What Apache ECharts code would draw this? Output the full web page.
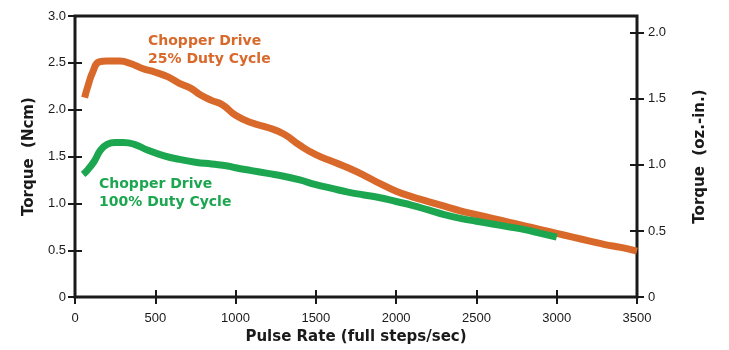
<!DOCTYPE html>
<html>
<head>
<meta charset="utf-8">
<script src="https://cdn.jsdelivr.net/npm/echarts@6/dist/echarts.min.js"></script>
<style>
  html, body { margin: 0; padding: 0; background: #fff; }
  #chart { width: 729px; height: 350px; }
</style>
</head>
<body>
<div id="chart"></div>
<script>
// pulse rate (steps/sec) and torque (Ncm)
var rate25 = [60, 80, 110, 150, 200, 280, 350, 420, 500, 580, 650, 720, 780, 850, 920, 1000,
  1100, 1200, 1300, 1400, 1500, 1600, 1700, 1800, 1900, 2000, 2100, 2200, 2300, 2400, 2500,
  2600, 2700, 2800, 2900, 3000, 3100, 3200, 3300, 3400, 3500];
var torque25 = [2.13, 2.25, 2.40, 2.51, 2.52, 2.52, 2.49, 2.44, 2.40, 2.35, 2.28, 2.23, 2.16, 2.10, 2.05, 1.94,
  1.86, 1.81, 1.74, 1.62, 1.52, 1.45, 1.38, 1.30, 1.21, 1.13, 1.07, 1.02, 0.97, 0.92, 0.88,
  0.84, 0.80, 0.76, 0.72, 0.68, 0.64, 0.60, 0.56, 0.53, 0.49];

var rate100 = [50, 80, 120, 160, 200, 250, 300, 370, 450, 550, 650, 750, 850, 950, 1000,
  1100, 1200, 1300, 1400, 1500, 1600, 1700, 1800, 1900, 2000, 2100, 2200, 2300, 2400, 2500,
  2600, 2700, 2800, 2900, 3000];
var torque100 = [1.31, 1.36, 1.45, 1.57, 1.63, 1.65, 1.65, 1.63, 1.57, 1.51, 1.47, 1.44, 1.42, 1.40, 1.38,
  1.35, 1.32, 1.29, 1.25, 1.20, 1.16, 1.12, 1.09, 1.06, 1.02, 0.98, 0.93, 0.88, 0.84, 0.81,
  0.78, 0.75, 0.72, 0.68, 0.64];

var ozTicks = [0, 0.5, 1.0, 1.5, 2.0];

var orange = '#d8692a';
var green = '#1ca650';
var ink = '#1a1a1a';

function pairs(xs, ys) {
  return xs.map(function (x, i) { return [x, ys[i]]; });
}
function oneDecimal(v) {
  return v === 0 ? '0' : v.toFixed(1);
}

var chart = echarts.init(document.getElementById('chart'));

// the frame is the grid border; each axis sits 7px inside it so that
// 14px outward ticks cross the frame line
var tick = { show: true, length: 14, lineStyle: { color: ink, width: 2 } };
var nameFont = { color: ink, fontSize: 15, fontWeight: 'bold', fontFamily: 'DejaVu Sans' };

chart.setOption({
  animation: false,
  textStyle: { fontFamily: 'Liberation Sans, Arial, sans-serif' },
  grid: {
    left: 75, right: 92, top: 16, bottom: 52,
    show: true, borderColor: ink, borderWidth: 3
  },
  xAxis: {
    type: 'value', min: 0, max: 3500, interval: 500, offset: -7,
    name: 'Pulse Rate (full steps/sec)',
    nameLocation: 'middle', nameGap: 38,
    nameTextStyle: nameFont,
    axisLine: { show: false },
    axisTick: tick,
    axisLabel: { color: ink, fontSize: 13, margin: 22, formatter: function (v) { return String(v); } },
    splitLine: { show: false }
  },
  yAxis: [
    {
      type: 'value', min: 0, max: 3, interval: 0.5, position: 'left', offset: -7,
      name: 'Torque  (Ncm)',
      nameLocation: 'middle', nameGap: 45, nameRotate: 90,
      nameTextStyle: nameFont,
      axisLine: { show: false },
      axisTick: tick,
      axisLabel: { color: ink, fontSize: 13, margin: 16, formatter: oneDecimal },
      splitLine: { show: false }
    },
    {
      type: 'value', min: 0, max: 2.125, position: 'right', offset: -7,
      name: 'Torque  (oz.-in.)',
      nameLocation: 'middle', nameGap: 63, nameRotate: 90,
      nameTextStyle: nameFont,
      axisLine: { show: false },
      axisTick: { show: true, length: 14, customValues: ozTicks, lineStyle: { color: ink, width: 2 } },
      axisLabel: { color: ink, fontSize: 13, margin: 18, customValues: ozTicks, formatter: oneDecimal },
      splitLine: { show: false }
    }
  ],
  series: [
    {
      name: 'Chopper Drive 25% Duty Cycle',
      type: 'line', smooth: true, showSymbol: false,
      data: pairs(rate25, torque25),
      lineStyle: { color: orange, width: 7, cap: 'butt' }
    },
    {
      name: 'Chopper Drive 100% Duty Cycle',
      type: 'line', smooth: true, showSymbol: false,
      data: pairs(rate100, torque100),
      lineStyle: { color: green, width: 7, cap: 'butt' }
    }
  ],
  graphic: [
    {
      type: 'text', left: 148, top: 32,
      style: {
        text: 'Chopper Drive\n25% Duty Cycle',
        fill: orange, font: 'bold 14px "DejaVu Sans"', lineHeight: 18
      }
    },
    {
      type: 'text', left: 99, top: 175,
      style: {
        text: 'Chopper Drive\n100% Duty Cycle',
        fill: green, font: 'bold 14px "DejaVu Sans"', lineHeight: 18
      }
    }
  ]
});
</script>
</body>
</html>
